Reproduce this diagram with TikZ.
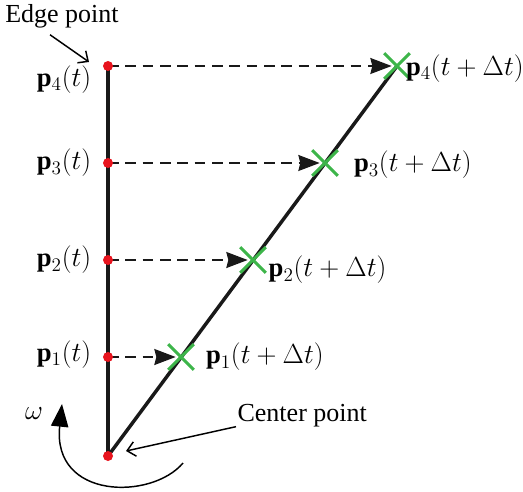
\documentclass[tikz,border=0pt]{standalone}
\usepackage{amsmath,amssymb}
\usepackage{fontspec}
\setmainfont{Liberation Serif}
\usepackage{tikz}
\usetikzlibrary{arrows.meta,positioning,shapes.misc}
\definecolor{cDot}{HTML}{E8141E}
\definecolor{cCross}{HTML}{3DB54A}
\tikzset{
  dot/.style    ={circle, fill=cDot, inner sep=0pt, minimum size=7.5pt},
  xmark/.style  ={cross out, draw=cCross, line width=2.2pt, minimum size=17pt, inner sep=0pt},
  lbl/.style    ={font=\fontsize{20}{23}\selectfont, inner sep=1pt},
  txt/.style    ={font=\fontsize{19.5}{22}\selectfont, inner sep=1pt},
  rod/.style    ={line width=2.6pt, draw=black!90},
  mv/.style     ={-{Stealth[length=16pt,width=12pt,inset=1.5pt]}, line width=1.1pt,
                  dash pattern=on 8pt off 5pt, draw=black!90},
  callout/.style={-{Straight Barb[length=6pt,width=11pt]}, line width=1.1pt},
  spin/.style   ={-{Triangle[length=17pt,width=13pt]}, line width=1.1pt},
}

\begin{document}
\begin{tikzpicture}[x=0.75pt,y=-0.75pt]
  \useasboundingbox (0,0) rectangle (523,491);
  % points on the rod at t and t+dt
  \coordinate (c0) at (108,456);
  \coordinate (e4) at (108,66);
  \coordinate (e3) at (108,163);
  \coordinate (e2) at (108,260);
  \coordinate (e1) at (108,357);
  \coordinate (n4) at (397,66);
  \coordinate (n3) at (325,163);
  \coordinate (n2) at (253,260);
  \coordinate (n1) at (181,357);

  \draw[rod] (e4) -- (c0);
  \draw[rod] (c0) -- (n4);
  \foreach \i in {1,...,4}{
    \draw[mv] (e\i) -- ([xshift=-4pt]n\i);
    \node[xmark] (m\i) at (n\i) {};
  }
  \node[dot] (d0) at (c0) {};
  \foreach \i in {1,...,4}
    \node[dot] (d\i) at (e\i) {};

  % labels at t
  \node[lbl,left=7.5pt of d4,yshift=-10pt] (l4) {$\mathbf{p}_4(t)$};
  \node[lbl,left=7.5pt of d3] (l3) {$\mathbf{p}_3(t)$};
  \node[lbl,left=7.5pt of d2] (l2) {$\mathbf{p}_2(t)$};
  \node[lbl,left=7.5pt of d1,yshift=2pt] (l1) {$\mathbf{p}_1(t)$};
  % labels at t+dt
  \node[lbl,right=-4pt of m4,yshift=-2pt] (r4) {$\mathbf{p}_4(t+\Delta t)$};
  \node[lbl,right=11pt of m3,yshift=-1.5pt] (r3) {$\mathbf{p}_3(t+\Delta t)$};
  \node[lbl,right=1pt of m2,yshift=-7.5pt] (r2) {$\mathbf{p}_2(t+\Delta t)$};
  \node[lbl,right=8pt of m1] (r1) {$\mathbf{p}_1(t+\Delta t)$};

  \node[txt] (edge) at (62,16) {Edge point};
  \coordinate (etip) at (89,62);
  \draw[callout] ([xshift=-9pt,yshift=-4pt]edge.south) -- (etip);

  \node[txt,anchor=west] (ctr) at (236,416) {Center point};
  \coordinate (ctip) at (126,451);
  \draw[callout] ([yshift=-8pt]ctr.west) -- (ctip);

  \node[txt] (om) at (34,414) {$\omega$};
  \coordinate (arcs) at (183,463);
  \coordinate (arce) at (62,404);
  \draw[spin] (arcs) .. controls (152,500) and (52,500) .. (arce);
\end{tikzpicture}
\end{document}
